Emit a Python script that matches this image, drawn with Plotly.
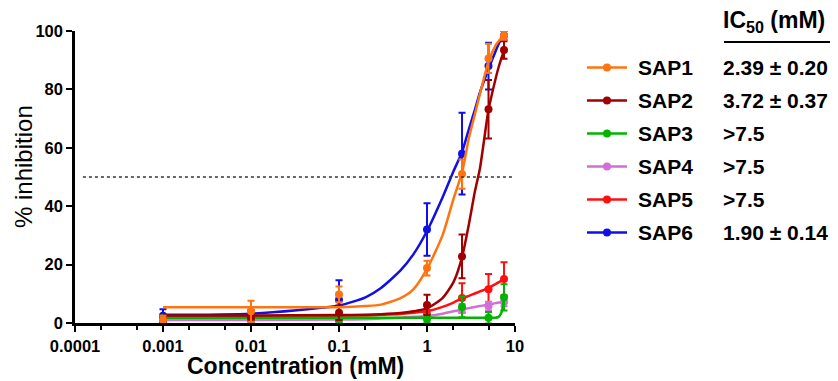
import plotly.graph_objects as go

# ---------------- data ----------------
conc = [0.001, 0.01, 0.1, 1, 2.5, 5, 7.5]

sap1 = [1.0, 4.0, 9.8, 18.8, 51.0, 90.6, 98.5]
sap1_err = [1.5, 3.6, 2.7, 2.5, 5.0, 5.0, 1.5]
sap2 = [0.8, 2.0, 3.5, 6.2, 22.8, 73.2, 93.5]
sap2_err = [1.0, 1.0, 2.5, 3.5, 7.5, 10.0, 3.0]
sap3 = [1.5, 1.5, 1.0, 1.5, 5.5, 1.8, 8.8]
sap3_err = [1.0, 1.0, 1.0, 1.5, 3.5, 2.0, 4.5]
sap4 = [0.5, 1.0, 1.0, 1.5, 5.0, 5.8, 7.2]
sap4_err = [0.5, 0.5, 0.5, 1.0, 1.5, 1.5, 1.5]
sap5 = [1.5, 1.5, 2.0, 3.0, 8.6, 11.6, 15.1]
sap5_err = [1.0, 1.0, 1.0, 1.5, 5.0, 5.2, 5.7]
sap6 = [2.5, 2.5, 8.0, 32.0, 58.0, 88.0, 98.5]
sap6_err = [2.2, 2.0, 6.6, 9.0, 14.0, 8.0, 1.5]

# fitted curves
curve_x = [0.001, 0.01, 0.1, 0.2, 0.3, 0.5, 0.7, 1, 1.5, 2, 2.5, 3, 3.5, 4, 5, 6, 6.5, 7, 7.3, 7.5]
sap1_fit = [5.4, 5.4, 5.4, 5.8, 6.3, 8.5, 11.5, 18.5, 30, 42.5, 51.5, 63.5, 71.5, 78.5, 89.5, 95, 96.5, 97.6, 98.2, 98.6]
sap2_fit = [2.6, 2.6, 2.7, 2.8, 3.0, 3.4, 4.0, 5.0, 8.5, 14, 22.5, 34, 45, 53, 73, 83.5, 87.5, 90.6, 92.3, 93.5]
sap3_fit = [1.8, 1.8, 1.8, 1.8, 1.8, 1.8, 1.8, 1.8, 1.8, 1.8, 1.8, 1.8, 1.8, 1.8, 1.8, 1.8, 2.1, 3.5, 5.8, 8.8]
sap4_fit = [1.0, 1.0, 1.2, 1.3, 1.5, 1.8, 2.1, 2.4, 3.2, 4.0, 4.6, 5.1, 5.5, 5.8, 6.3, 6.8, 7.0, 7.1, 7.2, 7.3]
sap5_fit = [2.2, 2.2, 2.5, 2.6, 2.8, 3.1, 3.5, 4.0, 5.5, 7.0, 8.4, 9.3, 10.1, 10.8, 12.0, 13.3, 13.9, 14.5, 14.9, 15.2]
sap6_fit = [2.8, 3.2, 6.0, 8.8, 12.0, 18.0, 23.5, 31.5, 43, 52, 58.5, 66.5, 73, 79, 87, 93, 95.5, 97.5, 98.8, 99.5]

names = ["SAP1", "SAP2", "SAP3", "SAP4", "SAP5", "SAP6"]
ic50_labels = ["2.39 ± 0.20", "3.72 ± 0.37", ">7.5", ">7.5", ">7.5", "1.90 ± 0.14"]
colors = ["#FF7410", "#A00000", "#00B400", "#D26ED6", "#FF1010", "#1010E6"]
means = [sap1, sap2, sap3, sap4, sap5, sap6]
errs = [sap1_err, sap2_err, sap3_err, sap4_err, sap5_err, sap6_err]
fits = [sap1_fit, sap2_fit, sap3_fit, sap4_fit, sap5_fit, sap6_fit]

x_tickvals = [0.0001, 0.001, 0.01, 0.1, 1, 10]
x_ticktext = ["0.0001", "0.001", "0.01", "0.1", "1", "10"]
y_tickvals = [0, 20, 40, 60, 80, 100]
threshold = 50

FONT = "Liberation Sans, Arial, sans-serif"
OFF = 8  # default page body margin
W, H = 838 - OFF, 381 - OFF
ML, MT = 75 - OFF, 31 - OFF
MR = W - (515 - OFF)
MB = H - (323 - OFF)
PW, PH = W - ML - MR, H - MT - MB


def px(xs):
    """screen x -> paper"""
    return (xs - OFF - ML) / PW


def py(ys):
    """screen y -> paper"""
    return (H - MB - (ys - OFF)) / PH


fig = go.Figure()

# draw in reverse so SAP1 is on top
for i in reversed(range(len(names))):
    c = colors[i]
    fig.add_trace(go.Scatter(
        x=curve_x, y=fits[i], mode="lines",
        line=dict(color=c, width=2.5, shape="spline", smoothing=0.6),
        showlegend=False, hoverinfo="skip", cliponaxis=False))
    fig.add_trace(go.Scatter(
        x=conc, y=means[i], mode="markers", name=names[i],
        marker=dict(color=c, size=8),
        error_y=dict(type="data", array=errs[i], color=c, thickness=2, width=3.5),
        showlegend=False, cliponaxis=False))

# 50% dotted reference line
fig.add_shape(type="line", xref="paper", yref="y", x0=0.018, x1=0.995,
              y0=threshold, y1=threshold,
              line=dict(color="#333333", width=1.5, dash="dot"))

# manual legend with IC50 column
LEG_SIZE = 21
row_y = [67.5, 100.5, 133.5, 166.5, 199.5, 232.5]
for i, n in enumerate(names):
    yy = py(row_y[i])
    fig.add_shape(type="line", xref="paper", yref="paper",
                  x0=px(587), x1=px(627), y0=yy, y1=yy,
                  line=dict(color=colors[i], width=2.5))
    fig.add_shape(type="circle", xref="paper", yref="paper",
                  x0=px(603), x1=px(611), y0=py(row_y[i] + 4), y1=py(row_y[i] - 4),
                  fillcolor=colors[i], line=dict(color=colors[i], width=0))
    fig.add_annotation(xref="paper", yref="paper", x=px(636), y=yy,
                       xanchor="left", yanchor="middle", showarrow=False,
                       text="<b>%s</b>" % n, font=dict(family=FONT, size=LEG_SIZE, color="black"))
    fig.add_annotation(xref="paper", yref="paper", x=px(721), y=yy,
                       xanchor="left", yanchor="middle", showarrow=False,
                       text="<b>%s</b>" % ic50_labels[i], font=dict(family=FONT, size=LEG_SIZE, color="black"))

fig.add_annotation(xref="paper", yref="paper", x=px(721), y=py(22),
                   xanchor="left", yanchor="middle", showarrow=False,
                   text="<b>IC<sub>50</sub> (mM)</b>", font=dict(family=FONT, size=23, color="black"))
fig.add_shape(type="line", xref="paper", yref="paper",
              x0=px(724), x1=px(830), y0=py(42), y1=py(42),
              line=dict(color="black", width=2))

# axis titles
fig.add_annotation(xref="paper", yref="paper", x=px(295), y=py(366),
                   xanchor="center", yanchor="middle", showarrow=False,
                   text="<b>Concentration (mM)</b>", font=dict(family=FONT, size=23, color="black"))
fig.add_annotation(xref="paper", yref="paper", x=px(23), y=py(167),
                   xanchor="center", yanchor="middle", showarrow=False, textangle=-90,
                   text="% inhibition", font=dict(family=FONT, size=24, color="black"))

axis_common = dict(showline=True, linecolor="black", linewidth=2.5, ticks="outside",
                   tickcolor="black", tickwidth=2, ticklen=6, showgrid=False, zeroline=False,
                   automargin=False,
                   tickfont=dict(family=FONT, size=16.5, color="black"))

fig.update_xaxes(type="log", range=[-4, 1], tickmode="array", tickvals=x_tickvals,
                 ticktext=["<b>%s</b>" % t for t in x_ticktext],
                 minor=dict(ticks="outside", ticklen=4, tickwidth=1.5, tickcolor="black", showgrid=False),
                 **axis_common)
fig.update_yaxes(range=[0, 100], tickmode="array", tickvals=y_tickvals,
                 ticktext=["<b>%d</b>" % v for v in y_tickvals],
                 **axis_common)

fig.update_layout(width=W, height=H, margin=dict(l=ML, r=MR, t=MT, b=MB),
                  plot_bgcolor="white", paper_bgcolor="white", showlegend=False,
                  font=dict(family=FONT))

fig.write_html("out.html")
